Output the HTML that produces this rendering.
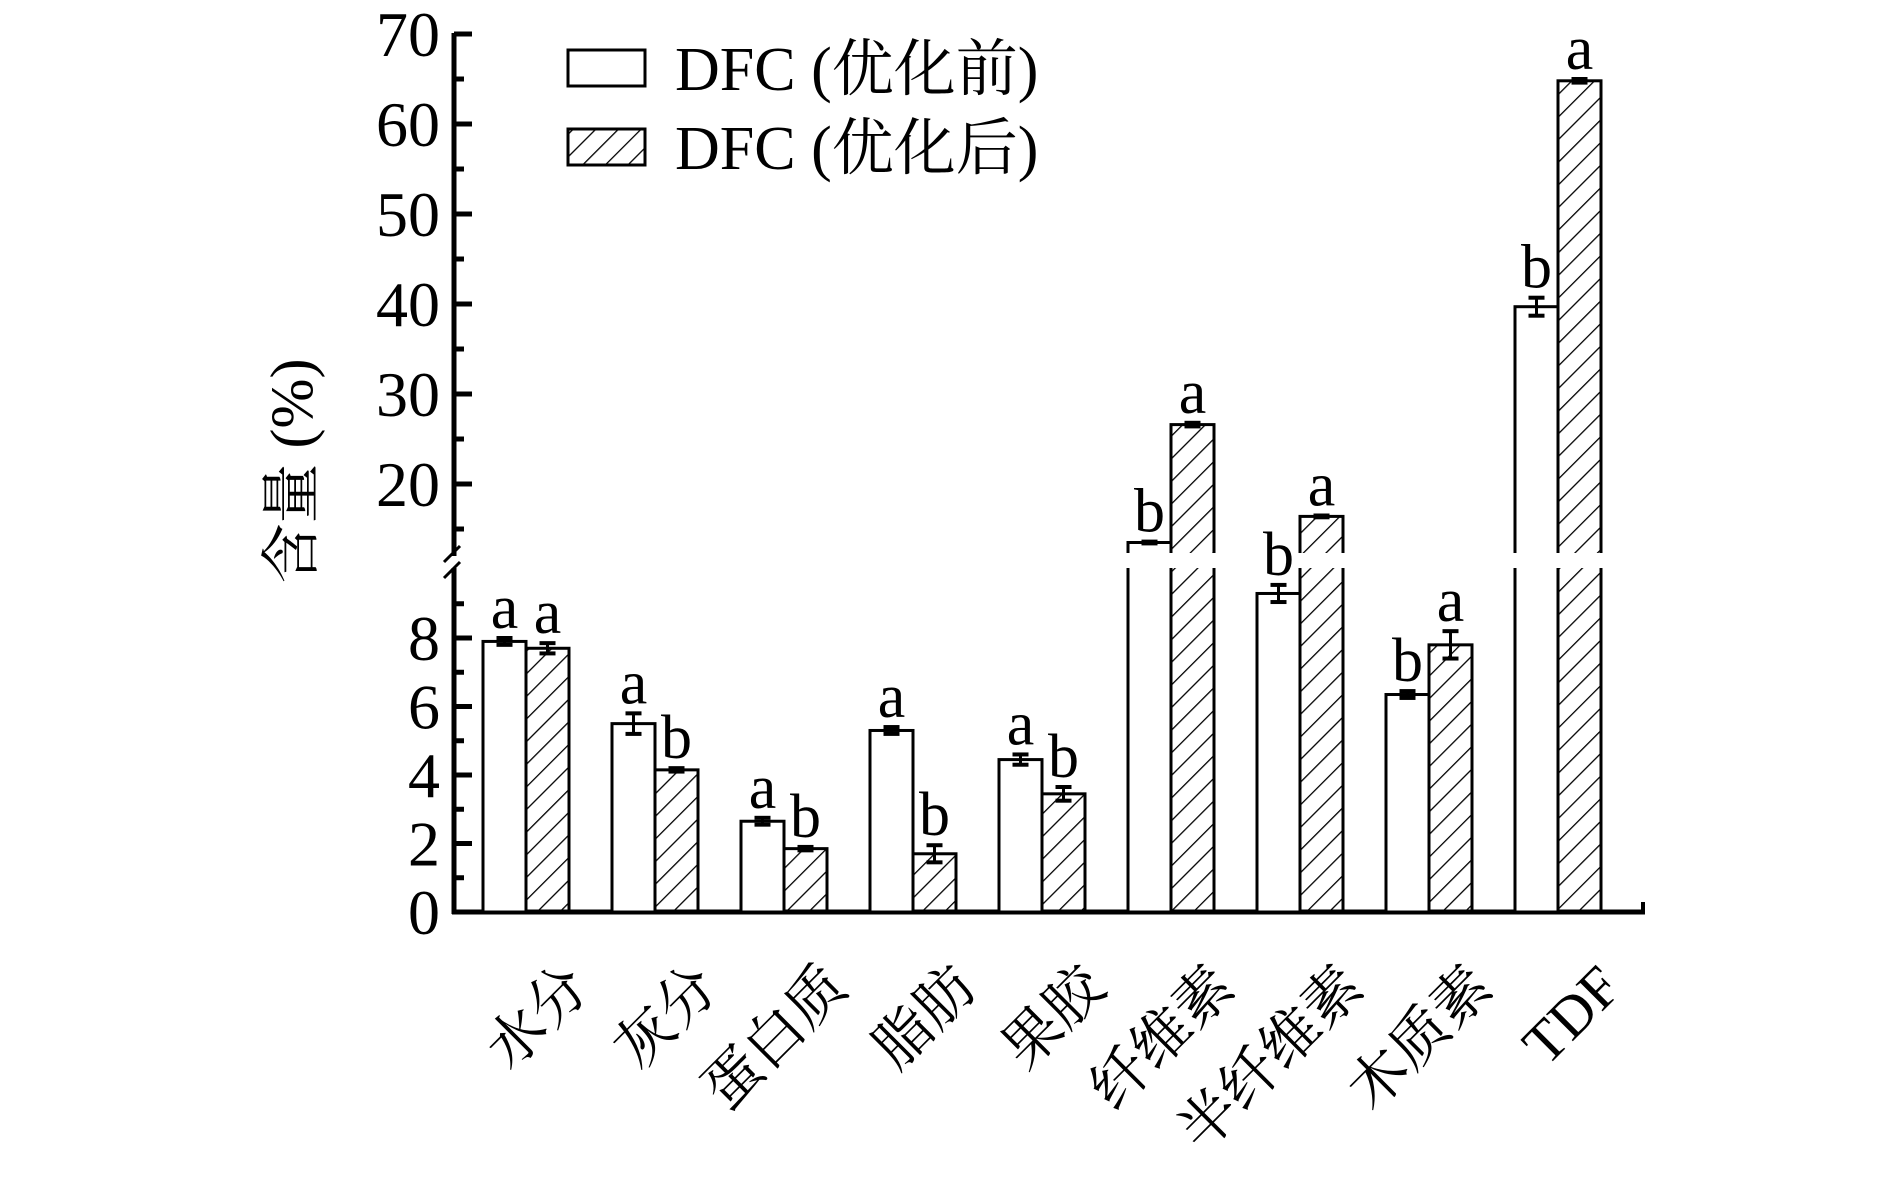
<!DOCTYPE html>
<html><head><meta charset="utf-8"><style>
html,body{margin:0;padding:0;background:#fff;}
svg text{font-family:"Liberation Serif","Noto Serif CJK SC","Noto Sans CJK SC",serif;fill:#000;}
</style></head><body>
<svg id="chart" width="1890" height="1173" viewBox="0 0 1890 1173" xmlns="http://www.w3.org/2000/svg">
<defs>
<pattern id="hatch" patternUnits="userSpaceOnUse" width="16" height="16" patternTransform="rotate(45)">
<line x1="0" y1="0" x2="0" y2="16" stroke="#000" stroke-width="2.6"/>
</pattern>
</defs>
<g id="axes"></g>
<g id="bars"></g>
<g id="labels"></g>
<text transform="translate(312,471) rotate(-90)" text-anchor="middle" font-size="60">含量 (%)</text>
<g>
<rect x="568" y="50" width="77" height="36" fill="#fff" stroke="#000" stroke-width="3"/>
<text x="675" y="90" font-size="62">DFC (优化前)</text>
<rect x="568" y="129" width="77" height="36" fill="url(#hatch)" stroke="#000" stroke-width="3"/>
<text x="675" y="169" font-size="62">DFC (优化后)</text>
</g>
</svg>
<script>
const categories=["水分","灰分","蛋白质","脂肪","果胶","纤维素","半纤维素","木质素","TDF"];
const beforeVals=[7.9,5.5,2.65,5.3,4.45,13.5,9.3,6.35,39.7];
const beforeErr=[0.1,0.3,0.1,0.1,0.15,0.1,0.25,0.1,1.0];
const afterVals=[7.7,4.15,1.85,1.7,3.45,26.6,16.4,7.8,64.8];
const afterErr=[0.15,0.05,0.05,0.25,0.2,0.2,0.1,0.4,0.2];
const beforeLetters=["a","a","a","a","a","b","b","b","b"];
const afterLetters=["a","b","b","b","b","a","a","a","a"];
const lowerTicks=[0,2,4,6,8];
const upperTicks=[20,30,40,50,60,70];

const NS="http://www.w3.org/2000/svg";
const AX=454, BASE=912, LOW_UNIT=34.25, LOW_MAX=10, BREAK_V=12;
const GAP_TOP=553, GAP_BOT=568;
function y(v){
  if(v<=LOW_MAX) return BASE-v*LOW_UNIT;
  if(v<BREAK_V) return GAP_BOT;
  return 484-(v-20)*9;
}
const X0=483, STEP=129, BW=43;
function xb(i){return X0+i*STEP;}
function el(tag,attrs,parent){const e=document.createElementNS(NS,tag);for(const k in attrs)e.setAttribute(k,attrs[k]);parent.appendChild(e);return e;}
const axes=document.getElementById('axes'), bars=document.getElementById('bars'), labels=document.getElementById('labels');

// y axis segments
let a1=el('line',{x1:AX,y1:33,x2:AX,y2:556,stroke:'#000','stroke-width':5},axes);


let a2=el('line',{x1:AX,y1:568,x2:AX,y2:914,stroke:'#000','stroke-width':5},axes);


el('line',{x1:AX-10,y1:562,x2:AX+6,y2:546,stroke:'#000','stroke-width':3},axes);
el('line',{x1:AX-10,y1:578,x2:AX+6,y2:562,stroke:'#000','stroke-width':3},axes);
let xa=el('line',{x1:AX-2,y1:BASE,x2:1645,y2:BASE,stroke:'#000','stroke-width':5},axes);


el('line',{x1:1643,y1:BASE,x2:1643,y2:BASE-10,stroke:'#000','stroke-width':4},axes);
// ticks
upperTicks.forEach(t=>{
  el('line',{x1:AX,y1:y(t),x2:AX+18,y2:y(t),stroke:'#000','stroke-width':5},axes);
  let tx=el('text',{x:AX-14,y:y(t)+22,'text-anchor':'end','font-size':64},axes);
  
  
  tx.textContent=t;
});
for(let t=15;t<=65;t+=10){el('line',{x1:AX,y1:y(t),x2:AX+10,y2:y(t),stroke:'#000','stroke-width':5},axes);}
lowerTicks.forEach(t=>{
  el('line',{x1:AX,y1:y(t),x2:AX+18,y2:y(t),stroke:'#000','stroke-width':5},axes);
  let tx=el('text',{x:AX-14,y:y(t)+22,'text-anchor':'end','font-size':64},axes);
  
  
  tx.textContent=t;
});
for(let t=1;t<=9;t+=2){el('line',{x1:AX,y1:y(t),x2:AX+10,y2:y(t),stroke:'#000','stroke-width':5},axes);}

function drawBar(i,v,err,letter,hatched,name){
  const x=hatched?xb(i)+BW:xb(i);
  const top=y(v);
  const fill=hatched?'url(#hatch)':'#fff';
  let r;
  if(v>BREAK_V){
    r=el('rect',{x:x,y:top,width:BW,height:BASE-top,fill:fill,stroke:'#000','stroke-width':3},bars);
    el('rect',{x:x-3,y:GAP_TOP,width:BW+6,height:GAP_BOT-GAP_TOP,fill:'#fff'},bars);
  } else {
    r=el('rect',{x:x,y:top,width:BW,height:BASE-top,fill:fill,stroke:'#000','stroke-width':3},bars);
  }
  
  
  const cx=x+BW/2, e1=y(v+err), e2=y(v-err);
  el('line',{x1:cx,y1:e1,x2:cx,y2:e2,stroke:'#000','stroke-width':3},bars);
  el('line',{x1:cx-8,y1:e1,x2:cx+8,y2:e1,stroke:'#000','stroke-width':4},bars);
  el('line',{x1:cx-8,y1:e2,x2:cx+8,y2:e2,stroke:'#000','stroke-width':4},bars);
  let t=el('text',{x:cx,y:e1-10,'text-anchor':'middle','font-size':62},bars);
  
  
  t.textContent=letter;
}
categories.forEach((c,i)=>{
  drawBar(i,beforeVals[i],beforeErr[i],beforeLetters[i],false,'bar-before');
  drawBar(i,afterVals[i],afterErr[i],afterLetters[i],true,'bar-after');
  const cx=xb(i)+BW;
  let t=el('text',{transform:`translate(${cx+66},990) rotate(-45)`,'text-anchor':'end','font-size':58},labels);
  
  
  t.textContent=c;
});
</script>
</body></html>
